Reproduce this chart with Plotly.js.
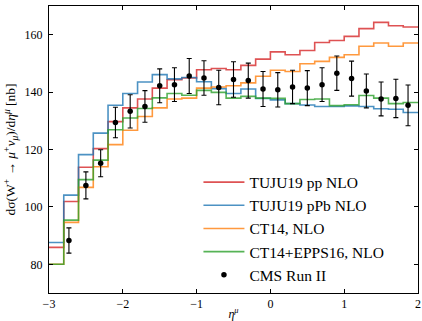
<!DOCTYPE html>
<html>
<head>
<meta charset="utf-8">
<script src="https://cdn.plot.ly/plotly-3.0.1.min.js"></script>
<style>
html,body{margin:0;padding:0;background:#fff;}
#chart{width:422px;height:321px;}
</style>
</head>
<body>
<div id="chart"></div>
<script>
// Bin edges of the theory histograms (eta_mu)
const binEdges = [-3.0,-2.8,-2.6,-2.4,-2.2,-2.0,-1.8,-1.6,-1.4,-1.2,-1.0,-0.8,-0.6,-0.4,-0.2,0.0,0.2,0.4,0.6,0.8,1.0,1.2,1.4,1.6,1.8,2.0];

// Theory predictions per bin (nb)
const tujuPP   = [85.9,101.9,113.8,120.3,129.7,134.5,137.6,141.4,144.3,144.9,147.8,148.2,147.8,149.3,151.5,154.0,153.0,154.5,157.3,158.0,159.4,162.1,164.3,163.1,162.7];
const tujuPPb  = [87.6,104.1,118.2,125.7,135.4,139.5,143.5,146.1,144.6,145.1,143.6,141.2,139.5,141.1,137.8,137.3,136.0,135.5,135.0,135.0,135.2,135.0,134.2,134.0,132.9];
const ct14     = [80.0,94.6,106.8,114.0,121.7,126.7,131.5,134.5,137.6,137.9,141.4,141.8,142.2,143.2,145.5,147.6,147.2,149.9,150.7,152.1,153.0,156.0,157.1,156.0,157.1];
const ct14epps = [80.0,95.4,109.5,116.3,126.9,131.0,134.3,138.0,139.5,138.9,140.6,139.9,137.9,138.5,137.9,137.8,136.0,137.4,137.6,135.3,135.6,138.8,137.9,136.0,136.4];

// CMS Run II data
const cmsEta = [-2.73,-2.5,-2.3,-2.1,-1.9,-1.7,-1.5,-1.3,-1.1,-0.9,-0.7,-0.5,-0.3,-0.1,0.1,0.3,0.5,0.7,0.9,1.1,1.3,1.5,1.7,1.865];
const cmsVal = [88.3,107.5,115.2,129.4,133.3,135.0,142.2,142.6,145.6,144.9,141.6,144.4,144.0,141.1,140.8,141.8,141.4,142.6,146.6,144.7,140.4,137.6,137.8,135.4];
const cmsErr = [4.4,4.7,4.7,5.3,5.8,5.5,5.9,5.9,6.1,6.0,6.0,6.2,6.1,6.1,6.0,5.8,6.1,5.9,6.0,6.1,5.9,5.9,6.7,7.1];

const seriesNames = ['TUJU19 pp NLO','TUJU19 pPb NLO','CT14, NLO','CT14+EPPS16, NLO','CMS Run II'];
const colors = ['#d62728','#1f77b4','#ff7f0e','#2ca02c'];

function stepTrace(vals, name, color){
  return {
    type:'scatter', mode:'lines', name:name,
    x: binEdges.slice(),
    y: vals.concat([vals[vals.length-1]]),
    line:{shape:'hv', color:color, width:1.6},
    opacity:0.8,
    legendgroup:name
  };
}

const traces = [
  stepTrace(tujuPP, seriesNames[0], colors[0]),
  stepTrace(tujuPPb, seriesNames[1], colors[1]),
  stepTrace(ct14, seriesNames[2], colors[2]),
  stepTrace(ct14epps, seriesNames[3], colors[3]),
  {
    type:'scatter', mode:'markers', name:seriesNames[4], legendgroup:'cms',
    x:cmsEta, y:cmsVal,
    marker:{color:'#000', size:5.5},
    error_y:{type:'data', array:cmsErr, visible:true, color:'#000', thickness:1.1, width:2.5}
  }
];

const font = '"Liberation Serif", "Times New Roman", serif';
const layout = {
  width:422, height:321,
  margin:{l:49, r:4, t:6, b:28},
  paper_bgcolor:'#fff', plot_bgcolor:'#fff',
  font:{family:font, size:11, color:'#000'},
  showlegend:true,
  legend:{
    x:0.405, y:0.005, xanchor:'left', yanchor:'bottom',
    bgcolor:'rgba(0,0,0,0)', borderwidth:0,
    font:{family:font, size:15.5, color:'#000'},
    traceorder:'grouped', tracegroupgap:0, itemwidth:41
  },
  xaxis:{
    range:[-3,2], tickvals:[-3,-2,-1,0,1,2],
    ticks:'inside', ticklen:4, tickwidth:1, tickcolor:'#000',
    showline:true, linecolor:'#000', linewidth:1, mirror:'ticks',
    showgrid:false, zeroline:false,
    tickfont:{family:font, size:12},
    title:{text:'<i>η</i><sup><i>μ</i></sup>', font:{family:font, size:12}, standoff:2}
  },
  yaxis:{
    range:[70,170], tickvals:[80,100,120,140,160],
    ticks:'inside', ticklen:4, tickwidth:1, tickcolor:'#000',
    showline:true, linecolor:'#000', linewidth:1, mirror:'ticks',
    showgrid:false, zeroline:false,
    tickfont:{family:font, size:12},
    ticklabelstandoff:3,
    title:{text:'dσ(W<sup>+</sup> → <i>μ</i><sup>+</sup><i>ν</i><sub><i>μ</i></sub>)/d<i>η</i><sup><i>μ</i></sup> [nb]', font:{family:font, size:13.5}, standoff:5}
  }
};

Plotly.newPlot('chart', traces, layout, {displayModeBar:false, staticPlot:true});
</script>
</body>
</html>
